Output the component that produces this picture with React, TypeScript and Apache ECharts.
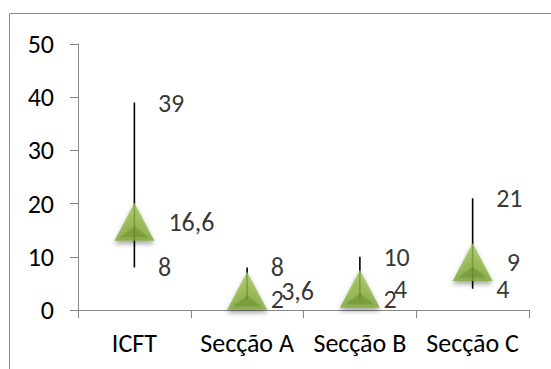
import React, { useEffect, useRef } from "react";
import * as echarts from "echarts";

// Categories and per-category statistics (max, min, mean)
const categories = ["ICFT", "Secção A", "Secção B", "Secção C"];
const highValues = [39, 8, 10, 21];
const lowValues = [8, 2, 2, 4];
const meanValues = [16.6, 3.6, 4, 9];

const yMin = 0;
const yMax = 50;
const yInterval = 10;

const FONT = "Carlito, Calibri, Lato, sans-serif";
const AXIS_GRAY = "#868686";

const fmt = (v: number) => String(v).replace(".", ",");

export default function App() {
  const ref = useRef<HTMLDivElement>(null);

  useEffect(() => {
    if (!ref.current) return;
    const chart = echarts.init(ref.current, undefined, { renderer: "svg" });

    const textStyle = { fontFamily: FONT, fontSize: 26, color: "#000" };

    chart.setOption({
      animation: false,
      backgroundColor: "#fff",
      textStyle: { fontFamily: FONT },
      graphic: [
        {
          type: "rect",
          shape: { x: 9.5, y: 13.5, width: 600, height: 400 },
          style: { fill: "none", stroke: "#8a8a8a", lineWidth: 1 },
          silent: true,
          z: -10,
        },
      ],
      grid: { left: 78, right: 22, top: 44, bottom: 59, containLabel: false },
      xAxis: {
        type: "category",
        data: categories,
        boundaryGap: true,
        axisLine: { lineStyle: { color: AXIS_GRAY, width: 1 } },
        axisTick: { show: true, length: 8, alignWithLabel: false, lineStyle: { color: AXIS_GRAY } },
        axisLabel: { ...textStyle, margin: 20, interval: 0 },
        splitLine: { show: false },
      },
      yAxis: {
        type: "value",
        min: yMin,
        max: yMax,
        interval: yInterval,
        axisLine: { show: true, lineStyle: { color: AXIS_GRAY, width: 1 } },
        axisTick: { show: true, length: 8, lineStyle: { color: AXIS_GRAY } },
        axisLabel: { ...textStyle, margin: 24 },
        splitLine: { show: false },
      },
      series: [
        {
          // high-low range lines
          type: "custom",
          data: categories.map((_, i) => [i, lowValues[i], highValues[i]]),
          encode: { x: 0, y: [1, 2] },
          z: 1,
          renderItem: (params: any, api: any) => {
            const lo = api.coord([api.value(0), api.value(1)]);
            const hi = api.coord([api.value(0), api.value(2)]);
            return {
              type: "line",
              shape: { x1: lo[0], y1: lo[1], x2: hi[0], y2: hi[1] },
              style: { stroke: "#000", lineWidth: 1.6 },
            };
          },
        },
        {
          // max labels
          type: "scatter",
          data: highValues,
          symbolSize: 1,
          itemStyle: { color: "rgba(0,0,0,0)" },
          z: 3,
          label: {
            show: true,
            position: "right",
            distance: 23,
            formatter: (p: any) => fmt(p.value),
            ...textStyle,
          },
        },
        {
          // min labels
          type: "scatter",
          data: lowValues,
          symbolSize: 1,
          itemStyle: { color: "rgba(0,0,0,0)" },
          z: 3,
          label: {
            show: true,
            position: "right",
            distance: 23,
            formatter: (p: any) => fmt(p.value),
            ...textStyle,
          },
        },
        {
          // mean markers
          type: "scatter",
          data: meanValues,
          symbol: "triangle",
          symbolSize: [40, 38],
          z: 4,
          itemStyle: {
            color: new echarts.graphic.LinearGradient(0, 0, 0, 1, [
              { offset: 0, color: "#a2c75a" },
              { offset: 0.55, color: "#8fb543" },
              { offset: 1, color: "#7ea535" },
            ]),
            shadowBlur: 5,
            shadowOffsetY: 3,
            shadowColor: "rgba(0,0,0,0.45)",
          },
          label: {
            show: true,
            position: "right",
            distance: 14,
            formatter: (p: any) => fmt(p.value),
            ...textStyle,
          },
        },
        {
          // bevel shading on the lower part of each marker
          type: "scatter",
          data: meanValues,
          symbol: "triangle",
          symbolSize: [28, 11],
          symbolOffset: [0, 10],
          z: 5,
          silent: true,
          itemStyle: { color: "rgba(95,130,35,0.5)" },
        },
      ],
    });

    return () => chart.dispose();
  }, []);

  return (
    <div
      ref={ref}
      style={{ position: "absolute", left: 0, top: 0, width: 551, height: 369 }}
    />
  );
}
